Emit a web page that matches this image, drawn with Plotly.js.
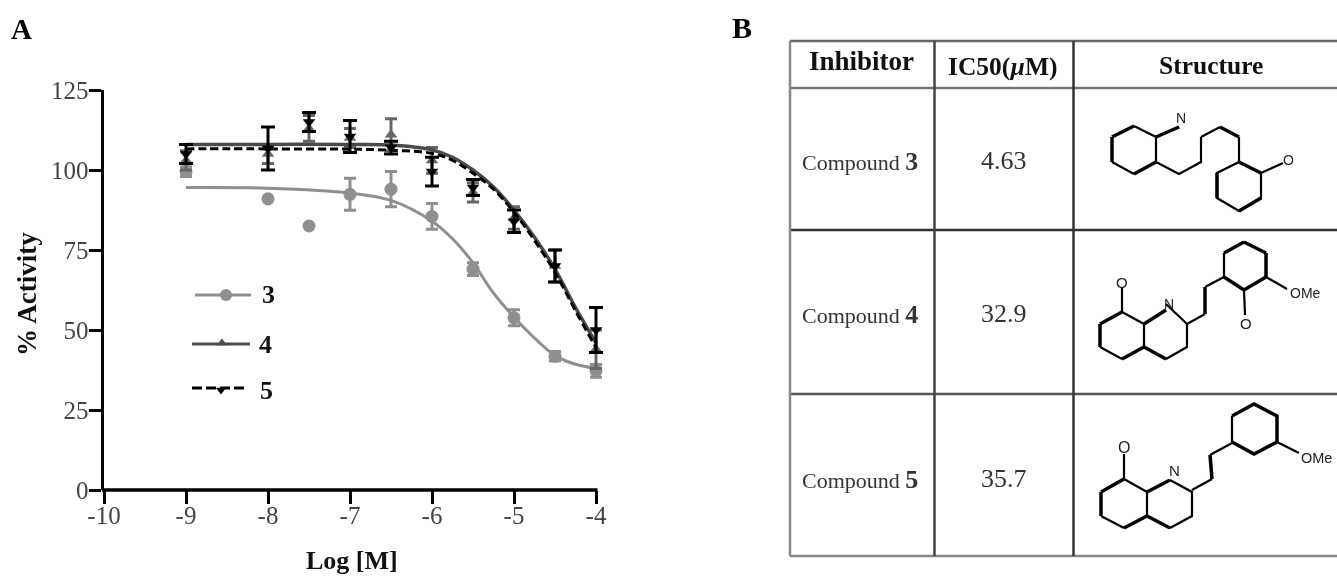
<!DOCTYPE html>
<html>
<head>
<meta charset="utf-8">
<script src="https://cdn.plot.ly/plotly-3.0.1.min.js"></script>
<style>
html,body{margin:0;padding:0;background:#fff;overflow:hidden}
#chart{width:1337px;height:576px;filter:blur(0.7px)}
</style>
</head>
<body>
<div id="chart"></div>
<script>
// ---------- Panel A : dose-response data ----------
const doseX = [-9, -8, -7.5, -7, -6.5, -6, -5.5, -5, -4.5, -4];
const act3 = [99.5, 91, 82.5, 92.4, 94, 85.5, 69, 53.8, 41.8, 37.2];
const err3 = [1.5, 0, 0, 5, 5.5, 4, 2, 2.5, 1.5, 2];
const act4 = [103, 105, 113, 110, 111, 103, 93, 85, 70, 44];
const err4 = [3, 3, 4, 3, 5, 4, 3, 3.5, 5, 6];
const act5 = [105, 106.7, 115, 110.5, 107, 99.5, 94.5, 84, 70, 50];
const err5 = [3, 6.7, 3, 5, 2, 4.5, 2.5, 3.5, 5, 7];

const fitX = [-9, -8, -7, -6.5, -6, -5.75, -5.5, -5.25, -5, -4.75, -4.5, -4.25, -4];
const fit3 = [94.5, 94.3, 92.8, 90.5, 84, 78.5, 71, 61.5, 54, 47.5, 42, 39.3, 38];
const fit4 = [108, 108, 108, 107.8, 106.3, 104, 100, 94.7, 87.5, 79, 69, 57, 46];
const fit5 = [106.6, 106.6, 106.5, 106.2, 105.2, 103, 99, 94, 86.8, 78, 68, 56, 44.5];

const seriesNames = ['3', '4', '5'];
const seriesColors = ['#8f8f8f', '#4a4a4a', '#000000'];

const xTicks = [-10, -9, -8, -7, -6, -5, -4];
const yTicks = [0, 25, 50, 75, 100, 125];

// ---------- Panel B : table text ----------
const tableHeaders = ['Inhibitor', 'IC50(<i>\u00b5</i>M)', 'Structure'];
const inhibitors = ['3', '4', '5'];
const ic50 = ['4.63', '32.9', '35.7'];

// ---------- Structure drawings : bond paths on the page ----------
const mol3Thin = {x:[1134,1156,1156,null,1156,1179,null,1156,1179,1201,1201,null,1112,1134,null,1201,1220,null,1239,1239,null,1239,1217,1217,1239,1261,1261,null,1261,1283],
                  y:[126,137,162,null,137,127,null,162,174,162,137,null,162,174,null,137,127,null,137,162,null,162,173,198,211,198,173,null,173,163]};
const mol3Thick = {x:[1112,1134,null,1112,1112,null,1134,1156,null,1156,1179,null,1220,1239,null,1239,1261,null,1217,1217,null,1239,1261],
                   y:[137,126,null,137,162,null,174,162,null,137,127,null,127,137,null,162,173,null,173,198,null,211,198]};
const mol4Thin = {x:[1122,1144,1144,null,1166,1187,1187,1166,null,1100,1122,null,1122,1122,null,1187,1205,null,1205,1224,null,1224,1224,null,1244,1266,null,1266,1287,null,1244,1245],
                  y:[312,324,347,null,304,324,347,359,null,347,359,null,312,288,null,324,314,null,287,277,null,277,253,null,242,253,null,277,289,null,290,315]};
const mol4Thick = {x:[1100,1122,null,1100,1100,null,1122,1144,null,1144,1166,null,1144,1166,null,1205,1205,null,1224,1244,null,1244,1266,null,1266,1266,null,1224,1244,1266],
                   y:[324,312,null,324,347,null,359,347,null,324,310,null,347,359,null,314,287,null,253,242,null,242,253,null,253,277,null,277,290,277]};
const mol5Thin = {x:[1124,1147,1147,null,1170,1192,1192,1170,null,1101,1124,null,1124,1124,null,1192,1212,null,1210,1232,null,1232,1232,null,1254,1277,null,1277,1299],
                  y:[479,492,516,null,480,492,516,528,null,516,528,null,479,454,null,490,479,null,455,443,null,442,416,null,404,416,null,442,453]};
const mol5Thick = {x:[1101,1124,null,1101,1101,null,1124,1147,null,1147,1170,null,1147,1170,null,1212,1210,null,1232,1254,1277,1277,null,1232,1254,1277],
                   y:[492,479,null,492,516,null,528,516,null,492,480,null,516,528,null,479,455,null,416,404,416,442,null,442,454,442]};
const atomLabels = [
  ['N',1181,118,14],['O',1288,160,14],
  ['N',1169,304,14],['O',1122,282,15],['O',1245.6,323,15],['OMe',1305,293,14],
  ['N',1174,470,15],['O',1124,447,16],['OMe',1316,458,14.5]
];

// ---------- Page geometry ----------
const W = 1337, H = 576;
const FONT = '"Liberation Serif", serif';
const bond = (m, w) => ({type:'scatter', mode:'lines', x:m.x, y:m.y, xaxis:'x2', yaxis:'y2', showlegend:false, hoverinfo:'skip',
  line:{color:'#000', width:w}});

const traces = [
  {x:fitX, y:fit3, mode:'lines', line:{color:seriesColors[0], width:3, shape:'spline'}, showlegend:false},
  {x:doseX, y:act3, mode:'markers', cliponaxis:false, marker:{symbol:'circle', size:13, color:seriesColors[0]},
   error_y:{type:'data', array:err3, thickness:3, width:6, color:seriesColors[0]}, showlegend:false},
  {x:doseX, y:act4, mode:'markers', cliponaxis:false, marker:{symbol:'triangle-up', size:11, color:'#666'},
   error_y:{type:'data', array:err4, thickness:3, width:6, color:'#666'}, showlegend:false},
  {x:fitX, y:fit4, mode:'lines', line:{color:seriesColors[1], width:3.5, shape:'spline'}, showlegend:false},
  {x:doseX, y:act5, mode:'markers', cliponaxis:false, marker:{symbol:'triangle-down', size:11, color:seriesColors[2]},
   error_y:{type:'data', array:err5, thickness:3, width:7, color:seriesColors[2]}, showlegend:false},
  {x:fitX, y:fit5, mode:'lines', line:{color:seriesColors[2], width:3, dash:'8px,4px', shape:'spline'}, showlegend:false},
  // hand-placed key, as in the figure
  {x:[195,251], y:[295,295], xaxis:'x2', yaxis:'y2', mode:'lines', line:{color:seriesColors[0], width:3}, showlegend:false},
  {x:[226], y:[295], xaxis:'x2', yaxis:'y2', mode:'markers', marker:{symbol:'circle', size:12, color:seriesColors[0]}, showlegend:false},
  {x:[192,250], y:[344,344], xaxis:'x2', yaxis:'y2', mode:'lines', line:{color:seriesColors[1], width:3}, showlegend:false},
  {x:[222], y:[343], xaxis:'x2', yaxis:'y2', mode:'markers', marker:{symbol:'triangle-up', size:9, color:seriesColors[1]}, showlegend:false},
  {x:[192,245], y:[388,388], xaxis:'x2', yaxis:'y2', mode:'lines', line:{color:'#000', width:3, dash:'10px,4px'}, showlegend:false},
  {x:[221], y:[390], xaxis:'x2', yaxis:'y2', mode:'markers', marker:{symbol:'triangle-down', size:9, color:'#000'}, showlegend:false},
  // structures
  bond(mol3Thin, 2.2), bond(mol3Thick, 3.5),
  bond(mol4Thin, 2.2), bond(mol4Thick, 3.5),
  bond(mol5Thin, 2.2), bond(mol5Thick, 3.5)
];

const px = (x, y, text, size, extra) => Object.assign({
  xref:'x2', yref:'y2', x:x, y:y, text:text, showarrow:false, xanchor:'center', yanchor:'middle',
  font:{family:FONT, size:size, color:'#111'}
}, extra || {});

const annotations = [
  px(21, 29, '<b>A</b>', 29, {font:{family:FONT, size:29, color:'#000'}}),
  px(742, 27, '<b>B</b>', 30, {font:{family:FONT, size:30, color:'#000'}}),
  px(268, 294, '<b>3</b>', 26), px(265.5, 344, '<b>4</b>', 26), px(266, 390.5, '<b>5</b>', 26),
  px(27, 294, '<b>% Activity</b>', 27, {textangle:-90}),
  px(352, 560, '<b>Log [M]</b>', 26),
  px(861, 61, '<b>' + tableHeaders[0] + '</b>', 27),
  px(1003, 66, '<b>' + tableHeaders[1] + '</b>', 25.5),
  px(1211, 65, '<b>' + tableHeaders[2] + '</b>', 25.5)
];
const rowY = [161, 314, 479];
inhibitors.forEach((c, i) => {
  annotations.push(px(860, rowY[i], 'Compound <b><span style="font-size:26px">' + c + '</span></b>', 22, {font:{family:FONT, size:22, color:'#333'}}));
  annotations.push(px(1004, rowY[i] - 1, ic50[i], 26, {font:{family:FONT, size:26, color:'#333'}}));
});
atomLabels.forEach(a => annotations.push(px(a[1], a[2], a[0], a[3], {font:{family:'"Liberation Sans", sans-serif', size:a[3], color:'#222'}})));

const rule = (x0, y0, x1, y1, c, w) => ({type:'line', xref:'x2', yref:'y2', x0, y0, x1, y1, line:{color:c, width:w}});
const shapes = [
  rule(790, 41, W, 41, '#666', 2.5),
  rule(790, 88, W, 88, '#777', 2.5),
  rule(790, 230, W, 230, '#333', 2.5),
  rule(790, 394, W, 394, '#555', 2.5),
  rule(790, 556, W, 556, '#888', 2.5),
  rule(790, 41, 790, 556, '#888', 2.5),
  rule(934.5, 41, 934.5, 556, '#444', 2.5),
  rule(1073.5, 41, 1073.5, 556, '#333', 2.5),
  // x axis line stops at -4 while the plot area leaves room for the last error-bar caps
  rule(102, 490, 597.5, 490, '#000', 3.5)
];

const axisBase = {showgrid:false, zeroline:false, tickmode:'array', ticks:'outside', tickcolor:'#000',
  tickfont:{family:FONT, size:25, color:'#444'}};
const layout = {
  width:W, height:H, margin:{l:0, r:0, t:0, b:0}, paper_bgcolor:'#fff', plot_bgcolor:'rgba(0,0,0,0)',
  showlegend:false, font:{family:FONT},
  xaxis:Object.assign({}, axisBase, {domain:[104/W, (596+0.3*82)/W], range:[-10,-3.7], tickvals:xTicks, ticktext:xTicks.map(String),
    showline:false, ticklen:13, tickwidth:3, ticklabelstandoff:-10, anchor:'y'}),
  yaxis:Object.assign({}, axisBase, {domain:[(H-490)/H, (H-90)/H], range:[0,125], tickvals:yTicks, ticktext:yTicks.map(String),
    showline:true, linecolor:'#000', linewidth:3.5, ticklen:12, tickwidth:3, ticklabelstandoff:-5, anchor:'x'}),
  xaxis2:{domain:[0,1], range:[0,W], visible:false, fixedrange:true, anchor:'y2'},
  yaxis2:{domain:[0,1], range:[H,0], visible:false, fixedrange:true, anchor:'x2'},
  annotations, shapes
};
Plotly.newPlot('chart', traces, layout, {displayModeBar:false, staticPlot:true});
</script>
</body>
</html>
